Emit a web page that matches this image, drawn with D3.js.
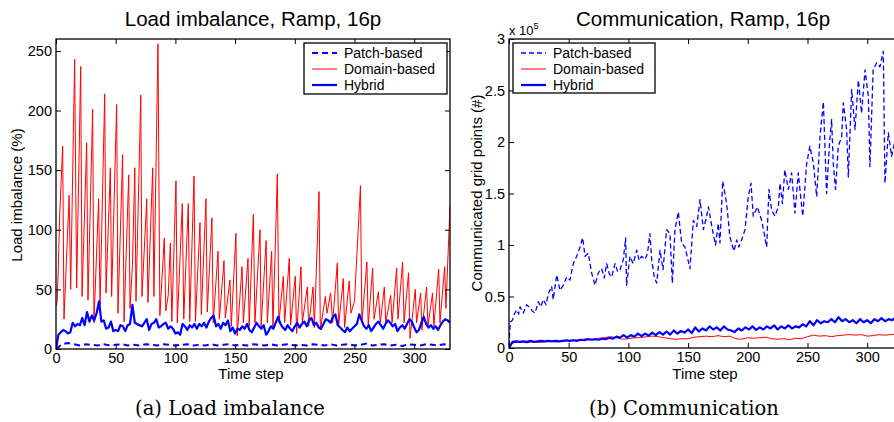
<!DOCTYPE html>
<html>
<head>
<meta charset="utf-8">
<script src="https://cdn.jsdelivr.net/npm/d3@7"></script>
<style>
body { margin: 0; background: #fff; }
svg text { font-family: "Liberation Sans", Arial, sans-serif; fill: #000; }
</style>
</head>
<body>
<script>
// ---- data ----
// time steps for the axes
const xTicks = [0, 50, 100, 150, 200, 250, 300];
const loadTicks = [0, 50, 100, 150, 200, 250];
const commTicks = [0, 50000, 100000, 150000, 200000, 250000, 300000];
const seriesNames = ["Patch-based", "Domain-based", "Hybrid"];

// (a) load imbalance (%), domain-based: [time step, value] at peaks / troughs
const domainLoad = [[0,36],[1,40],[2,70],[3,110],[5.6,170],[6.7,25],[11,129],[12.3,50],[15.6,243],[17.3,51],
  [20.7,237],[21.8,44],[25.7,173],[26.8,41],[30.7,201],[31.8,22],[35.7,126],[36.9,36],[40.8,214],[41.9,47],
  [45.5,152],[46.6,44],[50.8,205],[51.9,30],[55.8,163],[57,23],[60.9,146],[62,34],[64,70],[66,152],[67,40],
  [71,213],[72,44],[76,126],[77,39],[81,152],[82,44],[85.4,256],[87,28],[90.7,93],[92,32],[94,45],[95.8,89],
  [97,23],[100.5,141],[101.6,22],[105.8,122],[107,25],[110.8,122],[112,23],[115.6,145],[116.8,23],[120.6,106],
  [121.7,29],[125.6,126],[126.7,31],[130.6,110],[131.7,22],[135.7,82],[136.8,25],[140.7,74],[141.8,26],
  [145.7,58],[146.8,19],[150.7,97],[151.8,11],[155.8,69],[156.9,22],[160.8,76],[161.8,19],[165.3,113],
  [166.6,22],[170.9,100],[171.8,19],[176,91],[177,22],[180.6,82],[181.7,18],[185.4,147],[186.7,22],
  [190.4,61],[191.5,22],[195.4,76],[196.5,20],[200.4,61],[201.5,13],[205.2,69],[206.3,22],[210.5,52],
  [211.6,19],[215.3,52],[216.4,18],[220.3,132],[221.4,16],[225.6,44],[227,30],[230,47],[231.7,22],
  [235.6,72],[236.7,19],[240.6,59],[241.7,18],[245.6,57],[247,30],[250,40],[255,137],[256.2,22],[260.4,73],
  [261.5,19],[265.2,68],[266.4,25],[270,48],[271.6,22],[275,52],[276.2,22],[280.3,45],[281.5,22],[285.3,68],
  [286.4,25],[290.3,73],[291.5,22],[295.3,64],[296.5,9],[300.9,50],[302,22],[305.4,47],[306.5,16],
  [310.4,52],[311.5,19],[315.4,47],[316.5,19],[320.5,67],[321.6,22],[325.5,69],[326.6,34],[330,121]];

// (a) hybrid, one value every 2 time steps
const hybridLoadStep = 2;
const hybridLoad = [0,12,14,16,15,13,14,22,19,21,20,26,20,31,23,28,24,30,40,23,
  24,17,18,23,15,16,15,20,19,15,20,21,37,22,21,20,19,22,25,16,
  21,22,25,18,19,21,22,17,19,17,13,14,12,21,19,16,20,18,21,17,
  21,19,22,18,23,26,28,19,21,17,22,20,24,15,18,13,17,16,19,17,
  21,16,14,18,22,19,17,20,12,15,19,17,22,27,21,18,16,20,17,15,
  19,22,18,21,23,19,24,26,20,22,18,17,21,25,24,22,27,29,20,18,
  16,14,18,15,17,19,21,29,24,19,17,20,15,18,21,23,20,17,21,24,
  22,19,21,15,18,20,17,21,25,23,18,14,16,22,27,21,18,20,17,19,
  16,20,23,25,24,22];

// (a) patch-based, one value every 5 time steps
const patchLoadStep = 5;
const patchLoad = [0,4,5,4,3,4,3.5,3,4,3,3.5,4,3,3.5,3,4,3.5,3,4,3.5,
  3,3.5,4,3,3.5,3,4,3,3.5,4,3,3.5,3,4,3.5,3,4,3,3.5,4,
  3,3.5,3,4,3.5,3,4,3,3.5,4,3,3.5,4.5,3,3.5,4,3,3.5,2.5,4,
  3.5,3,4,3.5,3,4,3.5];

// (b) communicated grid points, in thousands
const patchComm = [[0,2],[1,25],[2.8,27],[4.5,33],[6.4,37],[8,33],[9.2,40],[12,34],[14.8,42],[17.6,39],
  [19.5,36],[21.8,34],[24.6,45],[26.5,40],[28.8,47],[31,42],[33,53],[35.7,60],[37,47],[40,71],[42.7,56],
  [45.5,61],[48.3,69],[51,66],[53.9,82],[56.7,89],[59.5,98],[61.7,107],[63.7,89],[66.4,92],[69.2,73],
  [72,61],[74.8,73],[77.6,77],[79.8,68],[81.8,82],[84,72],[86,69],[88.8,82],[91,74],[93,76],[95.8,86],
  [97.7,107],[98.5,61],[101.3,89],[104,82],[107,95],[109,85],[111,89],[114,86],[116,92],[118,111],
  [119.5,86],[121.7,69],[123.7,63],[126.5,95],[129,76],[132,115],[134.8,111],[136.8,63],[139,115],
  [141.8,132],[144.6,102],[147.4,98],[151.6,77],[154.4,124],[157.2,118],[160,144],[162.8,115],[165,125],
  [167,137],[171,111],[173,100],[175.3,121],[176.7,102],[179,162],[182.3,140],[185,108],[188.4,94],
  [190.7,105],[192.5,98],[194.9,105],[197.7,115],[200.4,147],[202.7,160],[204.6,128],[208,137],
  [211.6,124],[213.8,111],[215.8,98],[217.7,154],[220,134],[222.7,128],[225.6,137],[227,160],[229,140],
  [231,173],[234,154],[236.7,170],[239.5,131],[242.3,170],[244,150],[246,128],[249.3,179],[252,196],
  [255,179],[257.7,147],[260.5,205],[263.3,239],[266,150],[268.3,196],[270.2,222],[271.6,179],
  [273.5,154],[275.8,196],[278.6,205],[280,238],[282.8,212],[284.2,166],[287,251],[289.8,212],
  [292.6,260],[295.3,228],[298.2,270],[301,244],[302.3,176],[305,270],[307.9,277],[310.7,273],
  [313.5,288],[314.9,160],[317.7,209],[320.5,186],[323,200],[325,172],[327,190],[330,180]];

const hybridCommStep = 3;
const hybridComm = [0,6,6.5,6,6.5,6,7,6,6.5,7,6.5,7,6.5,7,6.5,7,7.5,7,7.5,7,
  8,7.5,8.5,8,8.5,8,9,8.5,10,9,11,10,12.5,10,12.5,11,14,11.5,14,12,
  15,12.5,15.5,13,16,13,17,14,16.5,15,18,14.5,20,16,19,17,21,18,20,17,
  21,18,17,15.5,19,17,20,18,21,17.5,20,18,21,19,22,18,21,19,22,19,
  21,20,23,21,26,22,27,24,26,25,28,25,30,26,28,25,27,24,28,25,
  27,24,28,26,29,26,28,27,30,27,29];

const domainCommStep = 5;
const domainComm = [3,5.5,6,5,6,5.5,6,6.5,6,6.5,7,7.5,8,9,8.5,9.5,10,11,10,8.5,
  9,10,10,11,11.5,11,10,9,8.5,9,9,10.5,11,11.5,11,12,11,11.5,9,8.5,
  10,9.5,10,10.5,9,8.5,9,8,9.5,9,11,12.5,11.5,12,11,12,12.5,13,12.5,13,
  11.5,12,13,12.5,13,13.5,14];

// ---- layout ----
const W = 894, H = 422;
const blue = "#0000ff", red = "#ff0000";

const svg = d3.select("body").append("svg")
    .attr("width", W)
    .attr("height", H);

svg.append("rect").attr("width", W).attr("height", H).attr("fill", "#fff");

function stepped(arr, step) {
    return arr.map((v, i) => [i * step, v]);
}

function panel(id, box, yDomain, yTicks, yFmt) {
    let g = svg.append("g");
    let x = d3.scaleLinear().domain([0, 330]).range([box.x0, box.x1]);
    let y = d3.scaleLinear().domain(yDomain).range([box.y1, box.y0]);

    svg.append("clipPath").attr("id", id)
        .append("rect")
        .attr("x", box.x0).attr("y", box.y0)
        .attr("width", box.x1 - box.x0).attr("height", box.y1 - box.y0);

    let plot = g.append("g").attr("clip-path", "url(#" + id + ")");

    // axes: MATLAB style, ticks inside on all four sides
    let bottom = g.append("g").attr("transform", "translate(0," + box.y1 + ")")
        .call(d3.axisBottom(x).tickValues(xTicks).tickSize(-5).tickPadding(4));
    let top = g.append("g").attr("transform", "translate(0," + box.y0 + ")")
        .call(d3.axisTop(x).tickValues(xTicks).tickSize(-5).tickFormat(""));
    let left = g.append("g").attr("transform", "translate(" + box.x0 + ",0)")
        .call(d3.axisLeft(y).tickValues(yTicks).tickSize(-5).tickPadding(4).tickFormat(yFmt));
    let right = g.append("g").attr("transform", "translate(" + box.x1 + ",0)")
        .call(d3.axisRight(y).tickValues(yTicks).tickSize(-5).tickFormat(""));

    [bottom, top, left, right].forEach(a => {
        a.select(".domain").remove();
        a.selectAll("line").attr("stroke", "#000").attr("stroke-width", 1);
        a.selectAll("text").style("font-size", "14.5px").attr("font-family", null);
    });

    g.append("rect")
        .attr("x", box.x0).attr("y", box.y0)
        .attr("width", box.x1 - box.x0).attr("height", box.y1 - box.y0)
        .attr("fill", "none").attr("stroke", "#000").attr("stroke-width", 1.3);

    return {g: g, plot: plot, x: x, y: y};
}

function drawLine(p, data, scaleY, style) {
    let line = d3.line()
        .x(d => p.x(d[0]))
        .y(d => p.y(d[1] * scaleY));
    p.plot.append("path")
        .datum(data)
        .attr("fill", "none")
        .attr("stroke", style.color)
        .attr("stroke-width", style.width)
        .attr("stroke-dasharray", style.dash || null)
        .attr("stroke-linejoin", "round")
        .attr("d", line);
}

function legend(box, styles) {
    let lg = svg.append("g");
    lg.append("rect")
        .attr("x", box.x).attr("y", box.y)
        .attr("width", box.w).attr("height", box.h)
        .attr("fill", "#fff").attr("stroke", "#000").attr("stroke-width", 1.3);
    seriesNames.forEach((name, i) => {
        let cy = box.y + 10 + i * 16;
        lg.append("line")
            .attr("x1", box.x + 8).attr("x2", box.x + 33)
            .attr("y1", cy).attr("y2", cy)
            .attr("stroke", styles[i].color)
            .attr("stroke-width", styles[i].width)
            .attr("stroke-dasharray", styles[i].dash || null);
        lg.append("text")
            .attr("x", box.x + 40).attr("y", cy + 5)
            .style("font-size", "14px")
            .text(name);
    });
}

// ---- (a) load imbalance ----
let pa = panel("clipA", {x0: 56, x1: 450, y0: 39, y1: 349}, [0, 260], loadTicks, d3.format("d"));
let stylesA = [
    {color: blue, width: 2, dash: "6,4"},
    {color: red, width: 1},
    {color: blue, width: 2.2}
];
drawLine(pa, domainLoad, 1, stylesA[1]);
drawLine(pa, stepped(patchLoad, patchLoadStep), 1, stylesA[0]);
drawLine(pa, stepped(hybridLoad, hybridLoadStep), 1, stylesA[2]);

svg.append("text").attr("x", 253).attr("y", 26).attr("text-anchor", "middle")
    .style("font-size", "20.5px").text("Load imbalance, Ramp, 16p");
svg.append("text").attr("x", 251).attr("y", 379).attr("text-anchor", "middle")
    .style("font-size", "15px").text("Time step");
svg.append("text").attr("transform", "translate(22,195) rotate(-90)").attr("text-anchor", "middle")
    .style("font-size", "15px").text("Load imbalance (%)");
legend({x: 304, y: 43, w: 143, h: 51}, stylesA);

// ---- (b) communication ----
let pb = panel("clipB", {x0: 509, x1: 903, y0: 39, y1: 348}, [0, 300000], commTicks, d => String(d / 1e5));
let stylesB = [
    {color: blue, width: 1.3, dash: "5,3"},
    {color: red, width: 1},
    {color: blue, width: 2.2}
];
drawLine(pb, patchComm, 1000, stylesB[0]);
drawLine(pb, stepped(domainComm, domainCommStep), 1000, stylesB[1]);
drawLine(pb, stepped(hybridComm, hybridCommStep), 1000, stylesB[2]);

svg.append("text").attr("x", 703).attr("y", 26).attr("text-anchor", "middle")
    .style("font-size", "20.5px").text("Communication, Ramp, 16p");
svg.append("text").attr("x", 705).attr("y", 379).attr("text-anchor", "middle")
    .style("font-size", "15px").text("Time step");
svg.append("text").attr("transform", "translate(482,193) rotate(-90)").attr("text-anchor", "middle")
    .style("font-size", "15px").text("Communicated grid points (#)");
let ex = svg.append("text").attr("x", 509).attr("y", 35).style("font-size", "13px");
ex.append("tspan").text("x 10");
ex.append("tspan").attr("dy", -6).style("font-size", "9px").text("5");
legend({x: 513, y: 43, w: 142, h: 50}, stylesB);

// ---- captions ----
svg.append("text").attr("x", 230).attr("y", 415).attr("text-anchor", "middle")
    .style("font-family", "'DejaVu Serif', serif").style("font-size", "19.5px")
    .text("(a) Load imbalance");
svg.append("text").attr("x", 684).attr("y", 415).attr("text-anchor", "middle")
    .style("font-family", "'DejaVu Serif', serif").style("font-size", "19.5px")
    .text("(b) Communication");
</script>
</body>
</html>
